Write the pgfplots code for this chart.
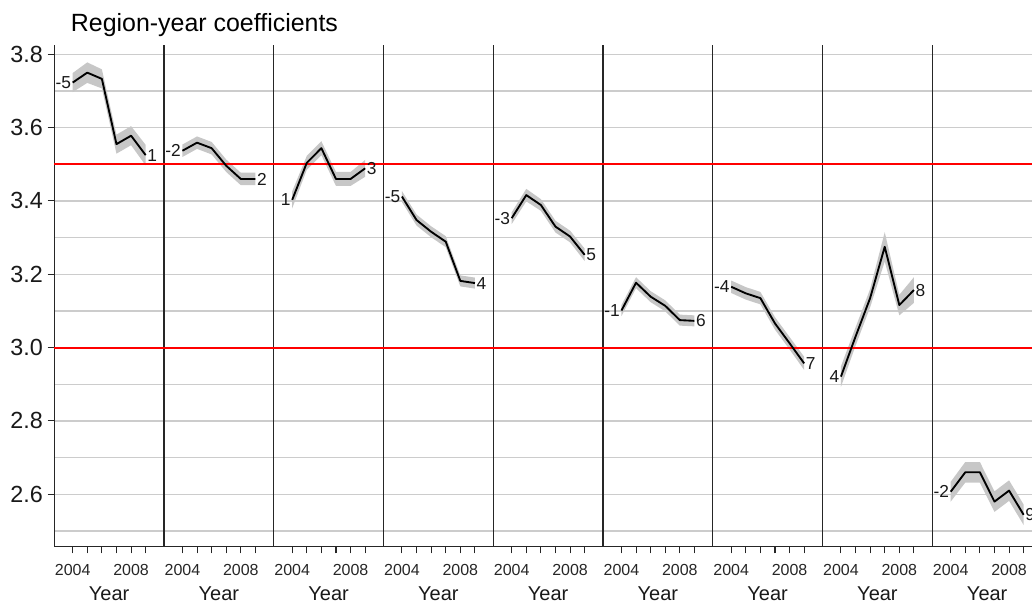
\documentclass[border=0pt]{standalone}
\usepackage{fontspec}
\setmainfont{Liberation Sans}
\usepackage{pgfplots}
\pgfplotsset{compat=1.18}
\usepgfplotslibrary{fillbetween}
\usepackage{pgfplotstable}

\pgfplotstableread{
year y lo hi
2004 3.723 3.697 3.749
2005 3.750 3.722 3.778
2006 3.733 3.707 3.759
2007 3.555 3.529 3.581
2008 3.578 3.552 3.604
2009 3.525 3.497 3.553
}\tA
\pgfplotstableread{
year y lo hi
2004 3.537 3.520 3.554
2005 3.559 3.542 3.576
2006 3.544 3.527 3.561
2007 3.496 3.479 3.513
2008 3.460 3.443 3.477
2009 3.460 3.443 3.477
}\tB
\pgfplotstableread{
year y lo hi
2004 3.403 3.380 3.426
2005 3.504 3.485 3.523
2006 3.544 3.525 3.563
2007 3.460 3.441 3.479
2008 3.460 3.441 3.479
2009 3.489 3.466 3.512
}\tC
\pgfplotstableread{
year y lo hi
2004 3.412 3.397 3.427
2005 3.348 3.333 3.363
2006 3.316 3.301 3.331
2007 3.289 3.274 3.304
2008 3.182 3.167 3.197
2009 3.176 3.161 3.191
}\tD
\pgfplotstableread{
year y lo hi
2004 3.353 3.337 3.369
2005 3.416 3.399 3.433
2006 3.389 3.373 3.405
2007 3.330 3.314 3.346
2008 3.303 3.287 3.319
2009 3.253 3.236 3.270
}\tE
\pgfplotstableread{
year y lo hi
2004 3.101 3.086 3.116
2005 3.177 3.162 3.192
2006 3.139 3.124 3.154
2007 3.114 3.099 3.129
2008 3.075 3.060 3.090
2009 3.073 3.058 3.088
}\tF
\pgfplotstableread{
year y lo hi
2004 3.166 3.149 3.183
2005 3.148 3.131 3.165
2006 3.135 3.118 3.152
2007 3.066 3.049 3.083
2008 3.012 2.995 3.029
2009 2.957 2.939 2.975
}\tG
\pgfplotstableread{
year y lo hi
2004 2.921 2.893 2.949
2005 3.030 3.005 3.055
2006 3.135 3.110 3.160
2007 3.275 3.235 3.315
2008 3.116 3.088 3.144
2009 3.157 3.122 3.192
}\tH
\pgfplotstableread{
year y lo hi
2004 2.607 2.580 2.634
2005 2.660 2.632 2.688
2006 2.660 2.632 2.688
2007 2.580 2.552 2.608
2008 2.610 2.582 2.638
2009 2.544 2.516 2.572
}\tI

\definecolor{refred}{RGB}{255,0,0}
\tikzset{lab/.style={font=\fontsize{13}{15}\selectfont, text=black!90, inner sep=1pt}}
\pgfplotsset{
  panel/.style={
    scale only axis, width=82.3125pt, height=376.275pt, anchor=south west,
    xmin=2002.74, xmax=2010.26, ymin=2.457, ymax=3.8254,
    axis lines*=left,
    axis line style={black!85, line width=0.9pt},
    xtick={2004,2005,2006,2007,2008,2009}, xticklabels={2004,,,,2008,},
    x tick label style={font=\fontsize{12}{14}\selectfont, text=black!85, yshift=-5pt},
    xlabel={Year}, xlabel style={font=\fontsize{15}{17}\selectfont, text=black!90, yshift=-1.5pt},
    tick align=outside, major tick length=5pt, minor tick length=0pt,
    every tick/.style={black!85, line width=0.8pt},
    ytick={2.6,2.8,3.0,3.2,3.4,3.6,3.8},
    minor ytick={2.5,2.7,2.9,3.1,3.3,3.5,3.7},
    ymajorgrids, yminorgrids,
    major grid style={black!20, line width=1pt},
    minor grid style={black!20, line width=1pt},
    clip=false,
    /pgf/number format/assume math mode=true,
    /pgf/number format/fixed, /pgf/number format/precision=1,
    /pgf/number format/fixed zerofill,
  },
  noy/.style={yticklabels={}, ytick style={draw=none}},
}

\newcommand{\panel}[5]{%
  \pgfplotstablegetelem{0}{y}\of#2\let\ys\pgfplotsretval
  \pgfplotstablegetelem{5}{y}\of#2\let\ye\pgfplotsretval
  \begin{axis}[panel, at={(#1,42.975pt)}, #5]
    \addplot[name path=H, draw=none] table[x=year,y=hi] {#2};
    \addplot[name path=L, draw=none] table[x=year,y=lo] {#2};
    \addplot[black!22, draw=none] fill between[of=H and L];
    \addplot[refred, line width=1.6pt] coordinates {(2002.74,3.5) (2010.26,3.5)};
    \addplot[refred, line width=1.6pt] coordinates {(2002.74,3.0) (2010.26,3.0)};
    \addplot[black, line width=1.4pt, line join=round] table[x=year,y=y] {#2};
    \node[lab, anchor=east] at (axis cs:2004,\ys) {#3};
    \node[lab, anchor=west] at (axis cs:2009,\ye) {#4};
  \end{axis}}

\begin{document}
\begin{tikzpicture}
\panel{40.725pt}{\tA}{-5}{1}{yticklabel style={font=\fontsize{17.5}{20}\selectfont, text=black!90}}
\panel{123.0375pt}{\tB}{-2}{2}{noy}
\panel{205.35pt}{\tC}{1}{3}{noy}
\panel{287.6625pt}{\tD}{-5}{4}{noy}
\panel{369.975pt}{\tE}{-3}{5}{noy}
\panel{452.2875pt}{\tF}{-1}{6}{noy}
\panel{534.6pt}{\tG}{-4}{7}{noy}
\panel{616.9125pt}{\tH}{4}{8}{noy}
\panel{699.225pt}{\tI}{-2}{9}{noy}
\node[anchor=base west, font=\fontsize{18.7}{21}\selectfont, inner sep=0pt] at (53pt,429.2pt) {Region-year coefficients};
\pgfresetboundingbox
\path[use as bounding box] (0,0) rectangle (774pt,453pt);
\end{tikzpicture}
\end{document}
